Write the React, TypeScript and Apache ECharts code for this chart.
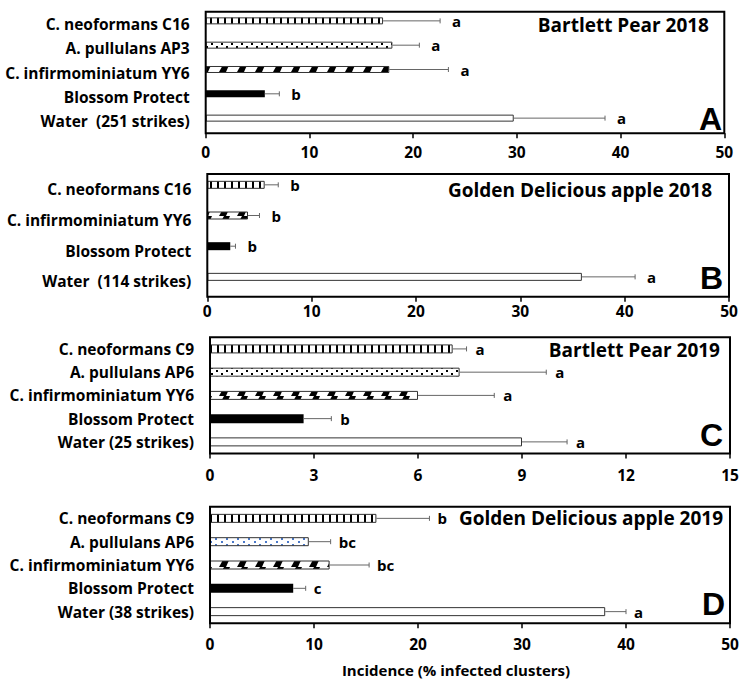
import React, { useEffect, useRef } from "react";
import * as echarts from "echarts";

// ---------- DATA ----------
const catsA = ["C. neoformans C16", "A. pullulans AP3", "C. infirmominiatum YY6", "Blossom Protect", "Water  (251 strikes)"];
const valsA = [17.1, 18.0, 17.7, 5.7, 29.7];
const errsA = [5.5, 2.6, 5.7, 1.4, 8.8];
const lettersA = ["a", "a", "a", "b", "a"];

const catsB = ["C. neoformans C16", "C. infirmominiatum YY6", "Blossom Protect", "Water  (114 strikes)"];
const valsB = [5.5, 3.9, 2.2, 35.9];
const errsB = [1.3, 1.1, 0.5, 5.1];
const lettersB = ["b", "b", "b", "a"];

const catsC = ["C. neoformans C9", "A. pullulans AP6", "C. infirmominiatum YY6", "Blossom Protect", "Water (25 strikes)"];
const valsC = [7.0, 7.2, 6.0, 2.7, 9.0];
const errsC = [0.4, 2.5, 2.2, 0.8, 1.3];
const lettersC = ["a", "a", "a", "b", "a"];

const catsD = ["C. neoformans C9", "A. pullulans AP6", "C. infirmominiatum YY6", "Blossom Protect", "Water (38 strikes)"];
const valsD = [16.0, 9.5, 11.5, 8.0, 38.0];
const errsD = [5.1, 2.1, 3.8, 1.2, 2.0];
const lettersD = ["b", "bc", "bc", "c", "a"];

const ticksAB = { max: 50, interval: 10 };
const ticksC = { max: 15, interval: 3 };
const ticksD = { max: 50, interval: 10 };

const xTitle = "Incidence (% infected clusters)";

// ---------- STYLE / LAYOUT ----------
const FONT = "'Open Sans', sans-serif";

const panels = [
  {
    cats: catsA, vals: valsA, errs: errsA, letters: lettersA, ticks: ticksAB,
    pats: ["vert", "dots", "diag", "solid", "white"],
    title: "Bartlett Pear 2018", tag: "A",
    L: { left: 205.7, top: 11.7, width: 518.6, height: 121.6, barW: 7, off: 3, gap: "-14%", labelMargin: 11, letterGap: 12, titleX: 709, titleY: 25, tagX: 722, tagY: 118.5 },
  },
  {
    cats: catsB, vals: valsB, errs: errsB, letters: lettersB, ticks: ticksAB,
    pats: ["vert", "diag", "solid", "white"],
    title: "Golden Delicious apple 2018", tag: "B",
    L: { left: 207.3, top: 174, width: 521.7, height: 122.7, barW: 8, off: 4.5, gap: "12.5%", labelMargin: 6.5, letterGap: 12, titleX: 712, titleY: 190, tagX: 723, tagY: 277.5 },
  },
  {
    cats: catsC, vals: valsC, errs: errsC, letters: lettersC, ticks: ticksC,
    pats: ["vert", "dots", "diag", "solid", "white"],
    title: "Bartlett Pear 2019", tag: "C",
    L: { left: 210, top: 337.3, width: 520, height: 116.2, barW: 9, off: 0, gap: "", labelMargin: 13, letterGap: 9, titleX: 720, titleY: 350, tagX: 723, tagY: 435 },
  },
  {
    cats: catsD, vals: valsD, errs: errsD, letters: lettersD, ticks: ticksD,
    pats: ["vert", "dotsBlue", "diag", "solid", "white"],
    title: "Golden Delicious apple 2019", tag: "D",
    L: { left: 210, top: 506.7, width: 520, height: 116.6, barW: 9, off: 0, gap: "", labelMargin: 13, letterGap: 8, titleX: 723, titleY: 518, tagX: 725, tagY: 603.5 },
  },
];

function makeCanvas(w: number, h: number, draw: (c: CanvasRenderingContext2D) => void) {
  const c = document.createElement("canvas");
  c.width = w;
  c.height = h;
  const ctx = c.getContext("2d")!;
  ctx.fillStyle = "#ffffff";
  ctx.fillRect(0, 0, w, h);
  draw(ctx);
  return c;
}

function buildPatterns(): Record<string, any> {
  const vert = makeCanvas(7, 4, (c) => {
    c.fillStyle = "#000";
    c.fillRect(0, 0, 2, 4);
  });
  const dots = makeCanvas(10, 6, (c) => {
    c.fillStyle = "#000";
    c.fillRect(1, 1, 2, 2);
    c.fillRect(6, 4, 2, 2);
  });
  const dotsBlue = makeCanvas(11, 6, (c) => {
    c.fillStyle = "#4a78c8";
    c.fillRect(1, 1, 2, 2);
    c.fillRect(6, 4, 2, 2);
  });
  const diag = makeCanvas(18, 9, (c) => {
    c.fillStyle = "#000";
    c.beginPath();
    c.moveTo(3, 9);
    c.lineTo(10, 9);
    c.lineTo(14, 0);
    c.lineTo(8, 0);
    c.closePath();
    c.fill();
  });
  return {
    vert: { image: vert, repeat: "repeat" },
    dots: { image: dots, repeat: "repeat" },
    dotsBlue: { image: dotsBlue, repeat: "repeat" },
    diag: { image: diag, repeat: "repeat" },
    solid: "#000000",
    white: "#ffffff",
  };
}

export default function App() {
  const ref = useRef<HTMLDivElement>(null);

  useEffect(() => {
    if (!ref.current) return;
    const chart = echarts.init(ref.current, undefined, { renderer: "svg" });
    const P = buildPatterns();

    const grid: any[] = [];
    const xAxis: any[] = [];
    const yAxis: any[] = [];
    const series: any[] = [];
    const graphic: any[] = [];

    panels.forEach((p, gi) => {
      const L = p.L;
      grid.push({ left: L.left, top: L.top, width: L.width, height: L.height, containLabel: false });
      xAxis.push({
        type: "value",
        gridIndex: gi,
        min: 0,
        max: p.ticks.max,
        interval: p.ticks.interval,
        axisLine: { show: false },
        axisTick: { show: true, length: 5, lineStyle: { color: "#000", width: 1.5 } },
        splitLine: { show: false },
        axisLabel: { color: "#000", fontWeight: "bold", fontSize: 15.5, fontFamily: FONT, margin: L.labelMargin },
      });
      yAxis.push({
        type: "category",
        gridIndex: gi,
        data: p.cats,
        inverse: true,
        axisLine: { show: false },
        axisTick: { show: false },
        axisLabel: { color: "#000", fontWeight: "bold", fontSize: 15.5, fontFamily: FONT, margin: 16 },
      });
      const barData = p.vals.map((v, i) => ({
        value: v,
        itemStyle: {
          color: P[p.pats[i]],
          borderColor: "#333",
          borderWidth: p.pats[i] === "solid" ? 0 : 1,
        },
      }));
      const barBase: any = {
        type: "bar",
        xAxisIndex: gi,
        yAxisIndex: gi,
        barWidth: L.barW,
        silent: true,
      };
      if (L.gap) barBase.barGap = L.gap;
      series.push({ ...barBase, data: barData });
      if (L.off) {
        series.push({ ...barBase, data: p.vals.map(() => 0), itemStyle: { opacity: 0 } });
      }
      series.push({
        type: "custom",
        xAxisIndex: gi,
        yAxisIndex: gi,
        silent: true,
        z: 5,
        data: p.vals.map((v, i) => [v, i, p.errs[i]]),
        encode: { x: 0, y: 1 },
        renderItem: (params: any, api: any) => {
          const v = api.value(0);
          const i = api.value(1);
          const e = api.value(2);
          const p0 = api.coord([v, i]);
          const p1 = api.coord([v + e, i]);
          const y = p0[1] - L.off;
          return {
            type: "group",
            children: [
              { type: "line", shape: { x1: p0[0], y1: y, x2: p1[0], y2: y }, style: { stroke: "#666", lineWidth: 1 } },
              { type: "line", shape: { x1: p1[0], y1: y - 2.5, x2: p1[0], y2: y + 2.5 }, style: { stroke: "#666", lineWidth: 1 } },
              {
                type: "text",
                x: p1[0] + L.letterGap,
                y: y,
                style: {
                  text: p.letters[params.dataIndex],
                  fill: "#000",
                  font: `bold 15px ${FONT}`,
                  textAlign: "left",
                  textVerticalAlign: "middle",
                },
              },
            ],
          };
        },
      });
      graphic.push({
        type: "rect",
        z: 20,
        silent: true,
        shape: { x: L.left, y: L.top, width: L.width, height: L.height },
        style: { fill: "none", stroke: "#000", lineWidth: 2 },
      });
      graphic.push({
        type: "text",
        z: 20,
        x: L.titleX,
        y: L.titleY,
        style: { text: p.title, fill: "#000", font: `bold 19px ${FONT}`, textAlign: "right", textVerticalAlign: "middle" },
      });
      graphic.push({
        type: "text",
        z: 20,
        x: L.tagX,
        y: L.tagY,
        style: { text: p.tag, fill: "#000", font: "bold 32px 'Liberation Sans', Arial, sans-serif", textAlign: "right", textVerticalAlign: "middle" },
      });
    });

    graphic.push({
      type: "text",
      x: 456,
      y: 670,
      style: { text: xTitle, fill: "#000", font: `bold 15px ${FONT}`, textAlign: "center", textVerticalAlign: "middle" },
    });

    chart.setOption({
      animation: false,
      backgroundColor: "#ffffff",
      grid,
      xAxis,
      yAxis,
      series,
      graphic,
    });
    return () => chart.dispose();
  }, []);

  return <div ref={ref} style={{ position: "fixed", left: 0, top: 0, width: 747, height: 681 }} />;
}
